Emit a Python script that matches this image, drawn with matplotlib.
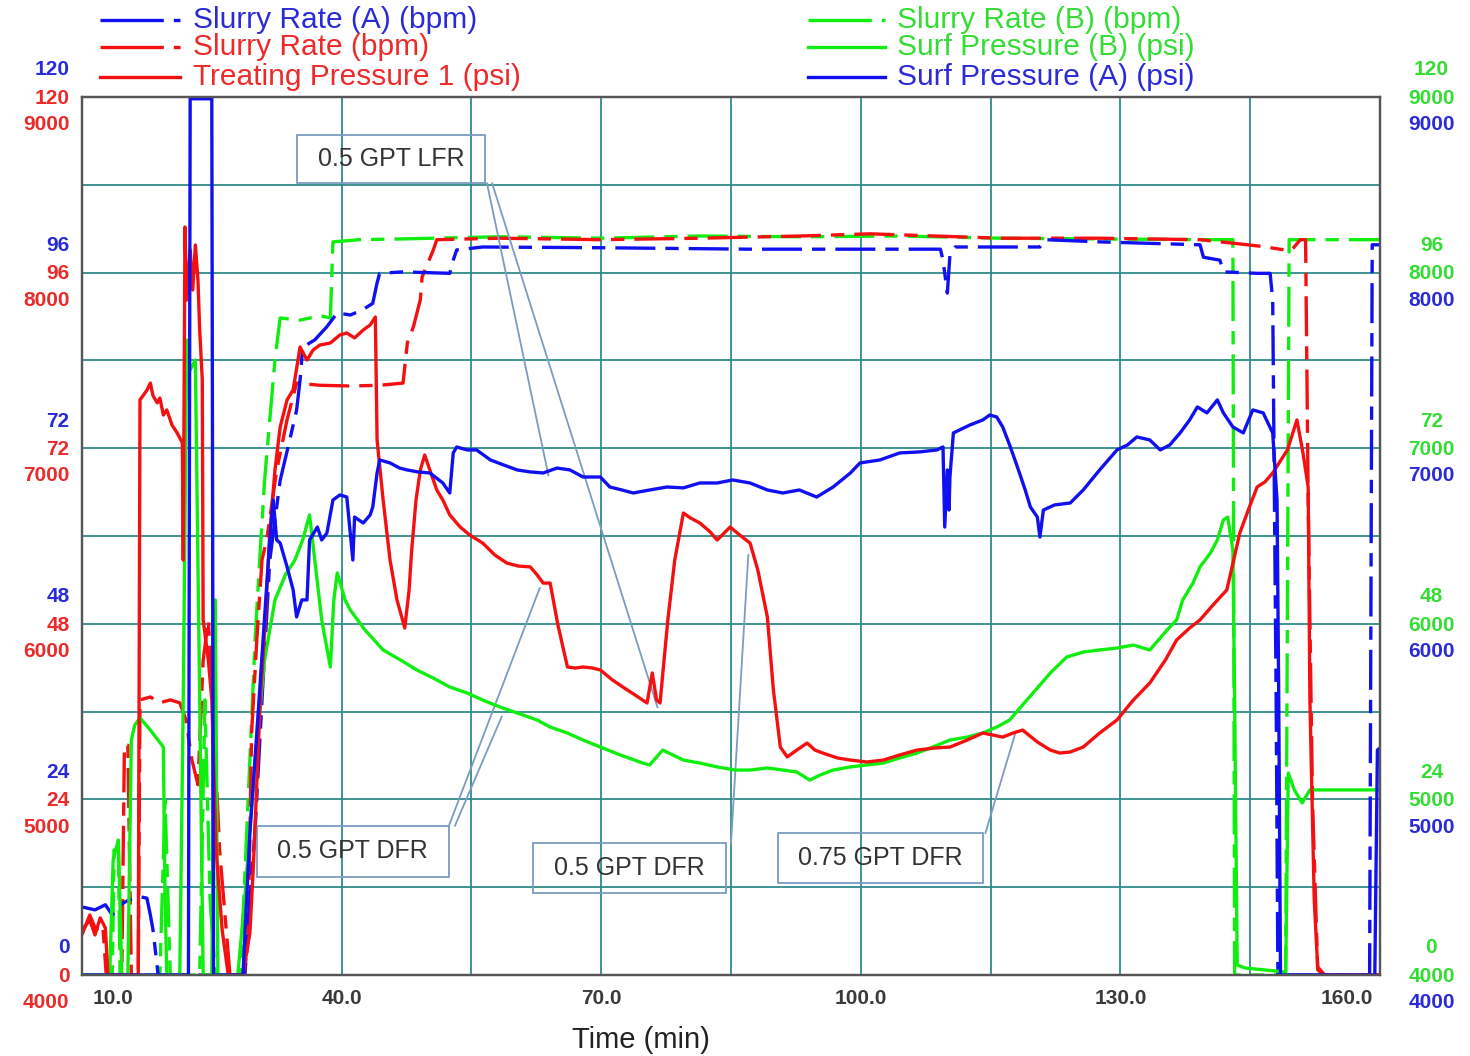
import matplotlib.pyplot as plt
import numpy as np
from matplotlib.lines import Line2D
from matplotlib.patches import Rectangle

plt.rcParams['font.family'] = ['Liberation Sans', 'DejaVu Sans']

# ---- data (time in min, rates in bpm, pressures in psi) ----
# Treating Pressure 1 (psi) - red solid
tp_t = [10.0, 10.9, 11.5, 12.1, 12.7, 13.0, 16.5, 16.7, 17.5, 17.9, 18.2, 18.7, 19.0, 19.4, 19.8, 20.4, 21.0, 21.6,
        21.7, 21.9, 22.1, 22.5, 22.8, 23.1, 23.4, 23.6, 23.9, 24.0, 24.6, 25.0, 25.5, 26.2, 26.9, 28.6, 29.4, 29.8,
        30.6, 31.1, 31.7, 32.3, 32.9, 33.7, 34.4, 35.2, 36.0, 36.7, 37.5, 38.7, 39.8, 40.6, 41.5, 42.5, 43.3, 43.9,
        44.1, 44.8, 45.6, 46.4, 47.3, 47.8, 48.1, 48.6, 49.1, 49.6, 50.2, 51.0, 51.7, 52.5, 53.7, 54.8, 56.3, 57.7,
        59.1, 60.4, 61.8, 62.6, 63.3, 64.1, 65.0, 66.1, 67.0, 67.9, 69.0, 69.9, 71.3, 72.5, 73.9, 75.3, 75.9, 76.4,
        76.8, 77.7, 78.5, 79.5, 80.3, 81.4, 82.6, 83.4, 84.9, 86.0, 87.2, 88.1, 89.2, 89.9, 90.7, 91.5, 92.6, 93.8,
        94.7, 95.6, 97.3, 98.8, 100.7, 102.6, 104.5, 106.5, 108.6, 110.3, 112.3, 114.1, 116.4, 117.6, 118.7, 120.4,
        121.9, 123.0, 124.2, 125.7, 127.6, 129.6, 131.5, 133.4, 135.2, 136.5, 138.0, 139.2, 140.7, 142.3, 143.8,
        145.0, 145.8, 146.7, 147.6, 149.3, 150.4, 151.1, 151.7, 151.9, 152.4, 152.8, 153.6, 160.0]
tp_v = [4256, 4313, 4228, 4325, 4268, 4000, 4000, 7275, 7330, 7371, 7300, 7258, 7286, 7189, 7218, 7132, 7087, 7030,
        6363, 8260, 7844, 8129, 7901, 8157, 7958, 7673, 7389, 6022, 5794, 5566, 4712, 4256, 4000, 4000, 4239, 4615,
        5566, 5948, 6517, 6876, 7121, 7275, 7332, 7576, 7502, 7559, 7588, 7599, 7645, 7656, 7628, 7673, 7702, 7747,
        7047, 6705, 6363, 6136, 5976, 6193, 6420, 6705, 6876, 6961, 6876, 6762, 6705, 6620, 6551, 6506, 6460, 6392,
        6346, 6329, 6324, 6278, 6232, 6232, 5993, 5754, 5748, 5754, 5748, 5737, 5680, 5640, 5595, 5549, 5720, 5566,
        5549, 6022, 6363, 6631, 6603, 6574, 6523, 6477, 6551, 6506, 6460, 6306, 6039, 5623, 5298, 5242, 5281, 5321,
        5281, 5264, 5236, 5224, 5213, 5224, 5253, 5281, 5293, 5298, 5338, 5378, 5355, 5378, 5395, 5327,
        5281, 5264, 5270, 5298, 5378, 5452, 5566, 5663, 5794, 5908, 5976, 6022, 6107, 6193, 6517,
        6677, 6779, 6808, 6859, 6990, 7161, 6973, 6779, 5566, 4427, 4046, 4000, 4000]

# Slurry Rate (bpm) - red dashed
sr_t = [10.0, 10.9, 11.6, 12.4, 12.8, 14.6, 14.9, 15.3, 15.7, 16.5, 16.7, 17.9, 19.0, 20.2, 21.3, 22.0, 22.7, 23.4,
        24.0, 24.6, 25.1, 25.9, 27.1, 28.8, 29.2, 29.6, 30.2, 30.8, 31.4, 32.5, 33.7, 34.8, 37.5, 41.0, 44.4, 47.1,
        47.6, 48.3, 49.1, 49.3, 50.6, 51.0, 58.3, 69.9, 81.4, 93.0, 101.1, 116.1, 127.6, 139.2, 143.2, 146.2, 149.0,
        149.8, 150.8, 151.4, 151.7, 152.2, 152.8, 153.6, 160.0]
sr_v = [5.5, 8.2, 6.2, 6.8, 0, 0, 31.4, 31.4, 0, 0, 37.6, 38.0, 37.2, 37.6, 37.2, 34.9, 29.4, 26.0,
        43.0, 48.5, 37.6, 17.1, 0, 0, 4.8, 33.1, 45.8, 56.7, 59.9, 69.0, 75.9, 80.9, 80.6, 80.5, 80.6, 80.9,
        86.4, 88.6, 92.3, 95.4, 99.1, 100.5, 100.7, 100.5, 100.7, 101.0, 101.3, 100.7, 100.7, 100.5, 100.0, 99.6, 99.1,
        99.1, 100.5, 100.5, 64.9, 23.9, 0.7, 0, 0]

# Slurry Rate (A) (bpm) - blue dashed
ra_t = [10.0, 11.5, 12.7, 13.5, 14.4, 15.5, 16.7, 17.5, 17.9, 18.2, 18.8, 28.8, 29.4, 30.0, 30.8, 31.7, 32.9, 34.0,
        34.8, 35.2, 35.5, 36.9, 38.3, 39.5, 41.0, 42.4, 43.6, 44.1, 44.4, 47.1, 52.5, 52.9, 53.3, 56.3, 69.9, 87.2,
        109.2, 109.5, 110.0, 110.3, 110.9, 120.7, 121.3, 127.6, 139.2, 139.6, 141.5, 141.9, 145.8, 147.3, 147.6,
        148.0, 148.2, 158.8, 159.1, 160.0]
ra_v = [9.3, 8.9, 9.6, 8.2, 9.6, 10.3, 10.7, 10.5, 8.2, 6.2, 0, 0, 10.3, 19.8, 37.6, 56.7, 67.6, 73.1,
        77.2, 81.3, 85.8, 86.8, 88.6, 90.5, 90.2, 90.9, 91.8, 94.6, 95.9, 96.1, 95.9, 97.7, 99.1, 99.5, 99.4, 99.2,
        99.2, 97.7, 93.2, 98.4, 99.5, 99.5, 100.5, 100.2, 99.8, 98.1, 97.7, 96.1, 95.9, 95.9, 92.3,
        37.6, 0, 0, 99.8, 99.8]

# Surf Pressure (A) (psi) - blue solid
pa_t = [10.0, 22.3, 22.5, 25.0, 25.2, 28.6, 29.4, 30.2, 30.9, 31.7, 32.1, 32.5, 32.9, 33.7, 34.4, 34.8, 35.4, 36.0,
        36.3, 37.2, 37.7, 38.3, 39.0, 39.8, 40.6, 41.3, 41.5, 42.5, 43.3, 43.6, 44.1, 44.4, 45.6, 46.7, 47.6, 48.8,
        50.2, 51.7, 52.5, 52.9, 53.3, 54.5, 55.6, 57.2, 58.7, 60.3, 61.8, 63.3, 64.9, 66.4, 67.9, 69.9, 71.0, 72.4,
        73.7, 75.6, 77.6, 79.5, 81.4, 83.4, 85.2, 87.2, 89.2, 91.0, 92.9, 94.9, 96.8, 98.8, 99.9, 102.2, 104.5,
        106.8, 108.8, 109.5, 109.7, 110.0, 110.2, 110.3, 110.7, 112.6, 114.1, 114.9, 115.7, 116.4, 117.2, 118.1,
        119.0, 119.6, 120.4, 120.7, 121.1, 122.4, 124.2, 125.7, 127.6, 129.6, 130.8, 131.9, 133.4, 134.6, 135.7,
        136.9, 138.0, 138.9, 140.0, 141.2, 141.9, 143.0, 144.2, 145.3, 146.5, 147.6, 148.1, 148.3, 148.5, 159.4,
        159.7, 160.0]
pa_v = [4000, 4000, 8990, 8990, 4000, 4000, 4809, 5378, 5891, 6477, 6705, 6477, 6460, 6324, 6193, 6039, 6136, 6136,
        6477, 6551, 6477, 6517, 6705, 6734, 6722, 6363, 6608, 6574, 6620, 6665, 6859, 6933, 6916, 6887, 6876, 6865,
        6859, 6802, 6745, 6973, 7007, 6990, 6990, 6933, 6905, 6876, 6865, 6859, 6887, 6876, 6836, 6836, 6779, 6762,
        6745, 6762, 6779, 6774, 6802, 6802, 6819, 6802, 6762, 6745, 6762, 6722, 6779, 6859, 6916, 6933, 6973,
        6979, 6990, 7007, 6551, 6876, 6648, 6836, 7087, 7132, 7161, 7189, 7178, 7121, 7018, 6893,
        6762, 6665, 6608, 6494, 6648, 6677, 6688, 6762, 6876, 6990, 7018, 7064, 7047, 6990, 7018,
        7087, 7161, 7235, 7201, 7275, 7201, 7121, 7087, 7218, 7201, 7087, 6705, 5566, 4000, 4000,
        5281, 5293]

# Slurry Rate (B) (bpm) - green dashed
rb_t = [10.0, 13.5, 13.7, 14.2, 14.4, 19.0, 19.6, 20.2, 23.6, 24.2, 24.8, 25.4, 28.3, 28.8, 29.4, 30.0, 30.6, 31.1,
        31.7, 32.3, 32.9, 35.2, 37.5, 38.7, 39.0, 42.1, 46.8, 58.3, 69.9, 81.4, 93.0, 104.5, 116.1, 127.6, 139.2,
        143.0, 143.2, 149.1, 149.5, 160.0]
rb_v = [0, 0, 17.1, 17.1, 0, 0, 23.9, 0, 0, 37.6, 10.3, 0, 0, 13.0, 29.4, 45.8, 58.1, 67.6,
        75.9, 84.1, 89.8, 89.5, 90.1, 89.8, 100.2, 100.5, 100.6, 100.9, 100.7, 101.0, 100.9, 101.0, 100.7, 100.6, 100.5,
        100.5, 0, 0, 100.5, 100.5]

# Surf Pressure (B) (psi) - green solid
pb_t = [10.0, 13.2, 13.6, 14.2, 14.6, 15.3, 15.7, 16.1, 16.7, 17.9, 19.4, 19.6, 19.8, 21.3, 21.7, 22.1, 22.5, 23.1,
        23.6, 24.0, 25.0, 25.4, 25.7, 28.0, 28.8, 30.0, 31.1, 32.3, 33.5, 34.6, 35.5, 36.3, 36.9, 37.7, 38.7, 39.1,
        39.5, 40.4, 41.0, 42.7, 44.8, 46.8, 48.7, 50.6, 52.5, 54.5, 56.3, 58.3, 60.3, 62.6, 64.1, 66.1, 67.9, 69.9,
        72.2, 74.8, 75.6, 77.1, 79.5, 81.4, 83.4, 85.5, 87.2, 89.2, 91.0, 92.6, 94.1, 95.3, 96.8, 98.8, 100.7, 102.6,
        104.5, 106.5, 108.3, 110.3, 112.3, 114.1, 115.7, 117.2, 118.4, 119.9, 121.9, 123.8, 125.7, 127.6, 129.6,
        131.5, 133.4, 135.4, 136.5, 137.2, 138.4, 139.2, 140.4, 141.2, 141.9, 142.4, 143.0, 143.2, 143.5, 144.4,
        149.1, 149.4, 150.1, 151.0, 151.9, 160.0]
pb_v = [4000, 4000, 4655, 4769, 4000, 4000, 5338, 5424, 5464, 5395, 5298, 4427, 4000, 4000, 5566, 7616, 7446, 7502,
        5566, 4000, 4000, 6136, 4000, 4000, 4427, 5224, 5794, 6136, 6278, 6363, 6477, 6620, 6363, 6022, 5754, 6136,
        6290, 6136, 6079, 5965, 5851, 5794, 5737, 5691, 5640, 5606, 5566, 5526, 5492, 5452, 5412, 5378, 5338, 5298,
        5253, 5207, 5196, 5281, 5224, 5207, 5185, 5167, 5167, 5179, 5167, 5156, 5110, 5139, 5167, 5185, 5196, 5207,
        5236, 5264, 5298, 5338, 5355, 5378, 5412, 5452, 5521, 5606, 5720, 5811, 5839, 5851, 5862,
        5879, 5851, 5965, 6022, 6136, 6233, 6324, 6403, 6477, 6591, 6608, 6420, 5566, 4057, 4040,
        4017, 5150, 5054, 4980, 5054, 5054]

rate_ticks = [0, 24, 48, 72, 96, 120]
pres_ticks = [4000, 5000, 6000, 7000, 8000, 9000]
time_ticks = [10, 40, 70, 100, 130, 160]

BLUE, RED, GREEN = '#1010f0', '#f41010', '#10ee10'
TBLUE, TRED, TGREEN = '#2a2ad8', '#ec2a2a', '#33dd33'
DASH = (12, 3, 4, 3)

fig = plt.figure(figsize=(14.7, 10.56), dpi=100)
ax = fig.add_axes([82 / 1470, 1 - 975 / 1056, 1298 / 1470, 878 / 1056])
axp = ax.twinx()

ax.set_xlim(10, 160)
ax.set_ylim(0, 120)
axp.set_ylim(4000, 9000)
ax.set_xticks(np.arange(10, 161, 15))
ax.set_yticks(np.arange(0, 121, 12))
ax.grid(True, color='#2e8b8b', lw=1.3)
ax.tick_params(length=0, labelbottom=False, labelleft=False)
axp.set_yticks([])
for a in (ax, axp):
    for s in a.spines.values():
        s.set_color('#555555')
        s.set_linewidth(1.6)

lw = 2.4
ax.plot(rb_t, rb_v, color=GREEN, lw=lw, dashes=DASH)
ax.plot(sr_t, sr_v, color=RED, lw=lw, dashes=DASH)
ax.plot(ra_t, ra_v, color=BLUE, lw=lw, dashes=DASH)
axp.plot(pb_t, pb_v, color=GREEN, lw=lw)
axp.plot(tp_t, tp_v, color=RED, lw=lw)
axp.plot(pa_t, pa_v, color=BLUE, lw=lw)

# stacked y tick labels
for r, p in zip(rate_ticks, pres_ticks):
    y = r
    kw = dict(xycoords=ax.get_yaxis_transform(), textcoords='offset points',
              ha='right', va='center', fontsize=15, fontweight='bold', annotation_clip=False)
    ax.annotate(str(r), xy=(0, y), xytext=(-9, 19.5), color=TBLUE, **kw)
    ax.annotate(str(r), xy=(0, y), xytext=(-9, -1), color=TRED, **kw)
    ax.annotate(str(p), xy=(0, y), xytext=(-9, -20), color=TRED, **kw)
    kw['ha'] = 'center'
    ax.annotate(str(r), xy=(1, y), xytext=(37, 19.5), color=TGREEN, **kw)
    ax.annotate(str(p), xy=(1, y), xytext=(37, -1), color=TGREEN, **kw)
    ax.annotate(str(p), xy=(1, y), xytext=(37, -20), color=TBLUE, **kw)

# x tick labels
for t in time_ticks:
    dx = 22 if t == 10 else (-24 if t == 160 else 0)
    ax.annotate('%.1f' % t, xy=(t, 0), xycoords=ax.get_xaxis_transform(), xytext=(dx, -17),
                textcoords='offset points', ha='center', va='center', fontsize=15,
                fontweight='bold', color='#3a3a3a', annotation_clip=False)
fig.text(641 / 1470, 1 - 1040 / 1056, 'Time (min)', ha='center', va='center', fontsize=21, color='#222222')

# annotation boxes
box_col = '#7a9cc0'
boxes = [('0.5 GPT LFR', 34.85, 56.57, 108.2, 114.8),
         ('0.5 GPT DFR', 30.2, 52.4, 13.4, 20.4),
         ('0.5 GPT DFR', 62.1, 84.4, 11.2, 18.0),
         ('0.75 GPT DFR', 90.4, 114.1, 12.6, 19.4)]
for txt, x0, x1, y0, y1 in boxes:
    ax.add_patch(Rectangle((x0, y0), x1 - x0, y1 - y0, fill=False, ec=box_col, lw=1.3, zorder=5))
    ax.text((x0 + x1) / 2, (y0 + y1) / 2, txt, ha='center', va='center', fontsize=18, color='#333333', zorder=6)
callouts = [((56.8, 108.2), (63.9, 68.3)), ((57.4, 108.2), (76.5, 36.6)),
            ((52.4, 20.4), (62.9, 52.9)), ((53.1, 20.4), (58.5, 35.3)),
            ((85.0, 18.0), (87.0, 57.4)), ((114.4, 19.4), (117.8, 32.8))]
for (xa, ya), (xb, yb) in callouts:
    ax.plot([xa, xb], [ya, yb], color=box_col, lw=1.3, zorder=5)

# legend drawn at the top
W, H = 1470, 1056
leg = [(100, 180, 193, 20, BLUE, True, 'Slurry Rate (A) (bpm)', TBLUE),
       (100, 180, 193, 47, RED, True, 'Slurry Rate (bpm)', TRED),
       (100, 180, 193, 77, RED, False, 'Treating Pressure 1 (psi)', TRED),
       (808, 885, 897, 20, GREEN, True, 'Slurry Rate (B) (bpm)', TGREEN),
       (808, 885, 897, 47, GREEN, False, 'Surf Pressure (B) (psi)', TGREEN),
       (808, 885, 897, 77, BLUE, False, 'Surf Pressure (A) (psi)', TBLUE)]
for x0, x1, xt, y, c, dashed, label, tc in leg:
    ln = Line2D([x0 / W, x1 / W], [1 - y / H, 1 - y / H], transform=fig.transFigure, color=c, lw=2.4)
    if dashed:
        ln.set_dashes((19, 3, 4, 3))
    fig.add_artist(ln)
    fig.text(xt / W, 1 - y / H, label, ha='left', va='center', fontsize=21.5, color=tc)

fig.savefig('out.png', dpi=100)
